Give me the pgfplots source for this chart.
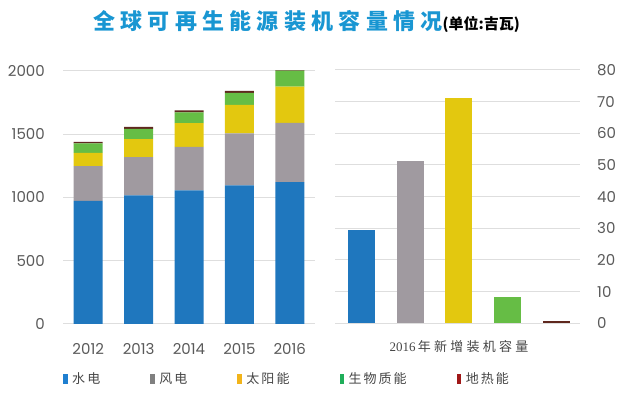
\documentclass[border=0pt]{standalone}
\usepackage{fontspec}
\usepackage{pgfplots}
\pgfplotsset{compat=1.18}
\setmainfont{Poppins}
\newfontfamily\cjk{Noto Sans CJK SC}
\newfontfamily\serifnum{Liberation Serif}
\definecolor{hydro}{RGB}{31,119,190}
\definecolor{wind}{RGB}{160,154,160}
\definecolor{solar}{RGB}{227,200,15}
\definecolor{bio}{RGB}{102,189,69}
\definecolor{geo}{RGB}{95,40,30}
\definecolor{lhydro}{RGB}{31,127,208}
\definecolor{lwind}{RGB}{128,128,128}
\definecolor{lsolar}{RGB}{242,180,26}
\definecolor{lbio}{RGB}{31,174,90}
\definecolor{lgeo}{RGB}{160,24,24}
\definecolor{titleblue}{RGB}{25,150,210}
\definecolor{gridgray}{RGB}{222,222,222}
\definecolor{ticktext}{RGB}{90,90,90}
\definecolor{legtext}{RGB}{70,70,70}
\pgfplotstableread{
x hydro wind solar bio geo
0 973 274 105 74 12
1 1015 303 142 81 16
2 1055 344 187 84 16
3 1094 411 225 95 16
4 1120 468 287 125 13
}\capdata
\begin{document}
\begin{tikzpicture}
\path[use as bounding box] (0,0) rectangle (640pt,396pt);
\node[anchor=west,inner sep=0pt] at (93pt,375pt) {{\cjk\bfseries\fontsize{22}{22}\selectfont\addfontfeature{LetterSpace=24}\color{titleblue}全球可再生能源装机容量情况}{\cjk\bfseries\fontsize{15}{15}\selectfont(单位:吉瓦)}};
\begin{axis}[
  at={(63pt,72pt)}, anchor=south west,
  scale only axis, width=252pt, height=253.3pt,
  xmin=-0.5, xmax=4.5, ymin=0, ymax=2000,
  ybar stacked, bar width=29pt,
  axis line style={draw=none},
  major tick length=0pt,
  ytick={0,500,1000,1500,2000},
  scaled ticks=false,
  /pgf/number format/1000 sep={},
  /pgf/number format/assume math mode=true,
  ymajorgrids, grid style={gridgray, line width=1pt},
  xtick={0,1,2,3,4}, xticklabels={2012,2013,2014,2015,2016},
  tick label style={font=\fontsize{15}{15}\selectfont, text=ticktext},
  yticklabel style={inner sep=0pt, xshift=-18pt},
  xticklabel style={inner sep=0pt, yshift=-19pt},
  legend columns=5,
  legend style={at={(0,-0.217)}, anchor=west, draw=none, fill=none, inner sep=0pt,
    font=\cjk\fontsize{13}{13}\selectfont\addfontfeature{LetterSpace=16}, text=legtext,
    /tikz/every even column/.append style={column sep=48pt}},
  legend image code/.code={\fill[#1] (0pt,-5pt) rectangle (4.5pt,5pt);},
]
\addlegendimage{fill=lhydro,draw=none}\addlegendentry{\hspace{2.5pt}水电}
\addlegendimage{fill=lwind,draw=none}\addlegendentry{\hspace{2.5pt}风电}
\addlegendimage{fill=lsolar,draw=none}\addlegendentry{\hspace{2.5pt}太阳能}
\addlegendimage{fill=lbio,draw=none}\addlegendentry{\hspace{2.5pt}生物质能}
\addlegendimage{fill=lgeo,draw=none}\addlegendentry{\hspace{2.5pt}地热能}
\addplot[fill=hydro,draw=none] table[x=x,y=hydro] {\capdata};
\addplot[fill=wind,draw=none] table[x=x,y=wind] {\capdata};
\addplot[fill=solar,draw=none] table[x=x,y=solar] {\capdata};
\addplot[fill=bio,draw=none] table[x=x,y=bio] {\capdata};
\addplot[fill=geo,draw=none] table[x=x,y=geo] {\capdata};
\end{axis}
\begin{axis}[
  at={(335pt,72.7pt)}, anchor=south west,
  scale only axis, width=245pt, height=253.3pt,
  xmin=-0.54, xmax=4.48, ymin=0, ymax=80,
  ybar, bar width=27pt, bar shift=0pt,
  axis line style={draw=none},
  major tick length=0pt,
  ytick={0,10,...,80},
  yticklabel pos=right,
  /pgf/number format/assume math mode=true,
  ymajorgrids, grid style={gridgray, line width=1pt},
  xtick={2}, xticklabels={{\serifnum 2016}\,{\cjk\addfontfeature{LetterSpace=25}年新增装机容量}},
  yticklabel style={font=\fontsize{15}{15}\selectfont, text=ticktext, inner sep=0pt, xshift=17pt},
  xticklabel style={font=\fontsize{13}{13}\selectfont, text=legtext, inner sep=0pt, yshift=-17pt},
]
\addplot[fill=hydro,draw=none] coordinates {(0,29.5)};
\addplot[fill=wind,draw=none] coordinates {(1,51.3)};
\addplot[fill=solar,draw=none] coordinates {(2,71.1)};
\addplot[fill=bio,draw=none] coordinates {(3,8.4)};
\addplot[fill=geo,draw=none] coordinates {(4,0.6)};
\end{axis}
\end{tikzpicture}
\end{document}
